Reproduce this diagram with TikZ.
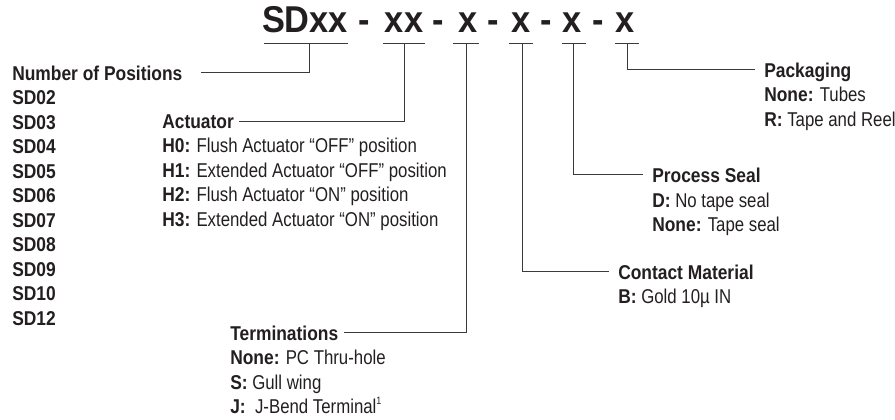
\documentclass[tikz,border=0pt]{standalone}
\usepackage{fontspec}
\setmainfont{Liberation Sans}[FakeStretch=0.84,BoldFeatures={FakeStretch=0.87}]
\newfontfamily\titlefont{Liberation Sans}[FakeStretch=0.92]
\definecolor{ink}{HTML}{231F20}
\definecolor{wire}{HTML}{3A3A3A}
\begin{document}
\begin{tikzpicture}[x=0.75pt,y=-0.75pt,
  txt/.style={anchor=base west,inner sep=0pt,font=\fontsize{15}{17}\selectfont,text=ink},
  hdr/.style={txt,font=\fontsize{15}{17}\selectfont\bfseries,text depth=0pt},
  ttl/.style={anchor=base,inner sep=0pt,font=\titlefont\fontsize{28}{32}\selectfont\bfseries,text=ink},
  wire/.style={draw=wire,line width=0.7pt}]
\useasboundingbox (0,0) rectangle (895,419);
% title pieces
\node[ttl] (t1) at (305,32) {SDxx};
\node[ttl] (d1) at (364,32) {-};
\node[ttl] (t2) at (404,32) {xx};
\node[ttl] (d2) at (438,32) {-};
\node[ttl] (t3) at (468,32) {x};
\node[ttl] (d3) at (493,32) {-};
\node[ttl] (t4) at (521,32) {x};
\node[ttl] (d4) at (546,32) {-};
\node[ttl] (t5) at (572.5,32) {x};
\node[ttl] (d5) at (598,32) {-};
\node[ttl] (t6) at (625,32) {x};
% underlines
\draw[wire] (264,43) -- (348,43);
\draw[wire] (383,43) -- (425,43);
\draw[wire] (453,43) -- (479,43);
\draw[wire] (509,43) -- (533,43);
\draw[wire] (562,43) -- (586,43);
\draw[wire] (615,43) -- (639,43);
\coordinate (u1) at (309,43);
\coordinate (u2) at (404,43);
\coordinate (u3) at (466,43);
\coordinate (u4) at (522,43);
\coordinate (u5) at (573,43);
\coordinate (u6) at (627,43);
% Number of positions
\node[hdr] (npos) at (12,80) {Number of Positions};
\foreach \lab [count=\i from 0] in {SD02,SD03,SD04,SD05,SD06,SD07,SD08,SD09,SD10,SD12}
  \node[hdr] (sd\i) at (12,{104.5+24.5*\i}) {\lab};
% Actuator
\node[hdr] (act) at (162,128) {Actuator};
\node[txt] (h0) at (162,152.5) {\textbf{H0:} Flush Actuator “OFF” position};
\node[txt] (h1) at (162,177) {\textbf{H1:} Extended Actuator “OFF” position};
\node[txt] (h2) at (162,201.5) {\textbf{H2:} Flush Actuator “ON” position};
\node[txt] (h3) at (162,226) {\textbf{H3:} Extended Actuator “ON” position};
% Terminations
\node[hdr] (term) at (230,340) {Terminations};
\node[txt] (tn) at (230,364.5) {\textbf{None:} PC Thru-hole};
\node[txt] (ts) at (230,389) {\textbf{S:} Gull wing};
\node[txt] (tj) at (230,413.5) {\textbf{J:}\ \ J-Bend Terminal\raisebox{0.45em}{\fontsize{8}{9}\selectfont 1}};
% Contact material
\node[hdr] (cm) at (618,279) {Contact Material};
\node[txt] (cb) at (618,303.5) {\textbf{B:} Gold 10µ IN};
% Process seal
\node[hdr] (ps) at (652,182) {Process Seal};
\node[txt] (pd) at (652,207) {\textbf{D:} No tape seal};
\node[txt] (pn) at (652,231.5) {\textbf{None:} Tape seal};
% Packaging
\node[hdr] (pk) at (764,77) {Packaging};
\node[txt] (pkn) at (764,101.5) {\textbf{None:} Tubes};
\node[txt] (pkr) at (764,126) {\textbf{R:} Tape and Reel};
% connectors
\draw[wire] (u1) |- ([xshift=14pt]npos.east);
\draw[wire] (u2) |- ([xshift=4pt]act.east);
\draw[wire] (u3) |- ([xshift=4pt]term.east);
\draw[wire] (u4) |- ([xshift=-7pt]cm.west);
\draw[wire] (u5) |- ([xshift=-7pt]ps.west);
\draw[wire] (u6) |- ([xshift=-7pt]pk.west);
\end{tikzpicture}
\end{document}
